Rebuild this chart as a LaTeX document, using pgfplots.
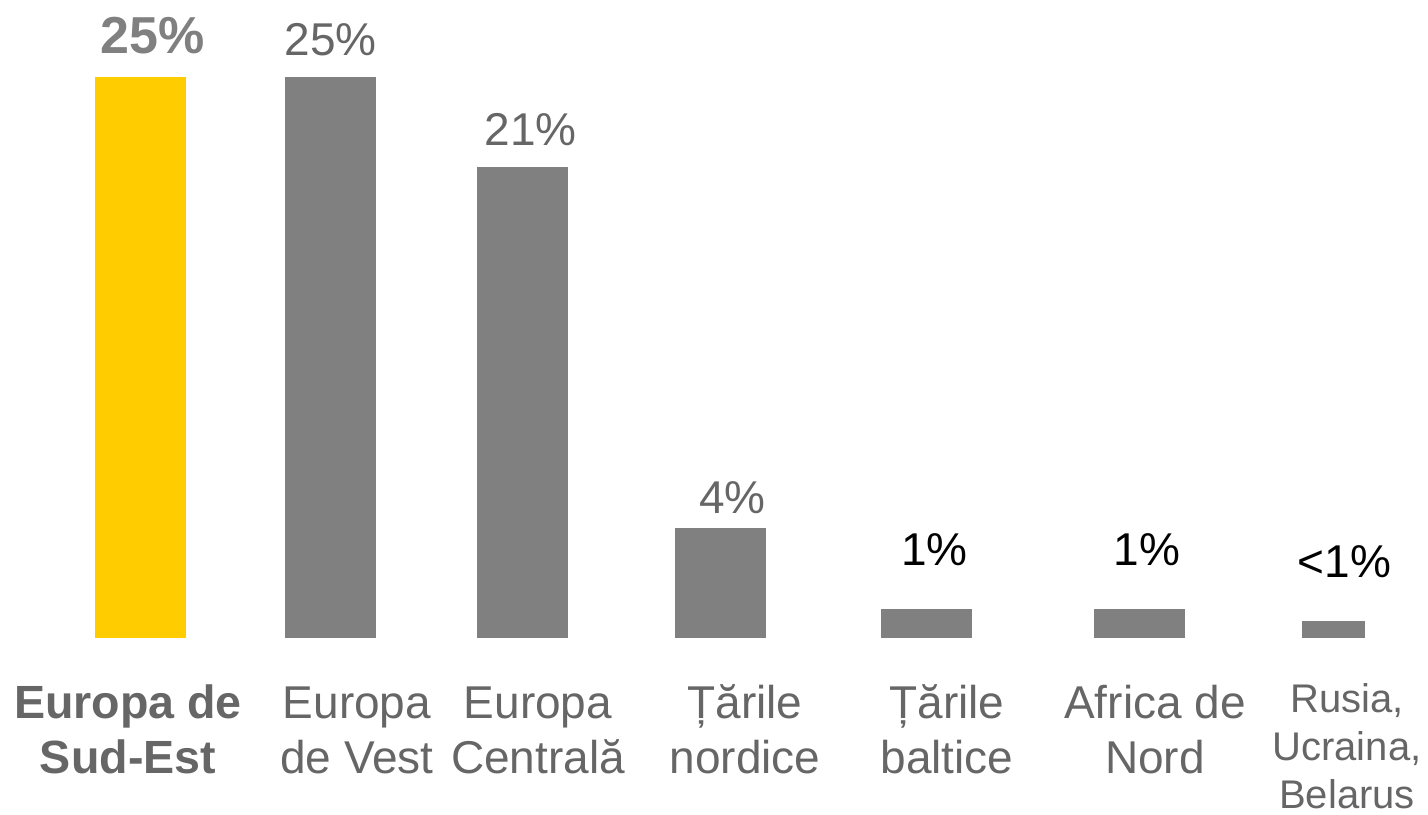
\documentclass[border=0pt]{standalone}
\usepackage{fontspec}
\setmainfont{Liberation Sans}
\usepackage{pgfplots}
\pgfplotsset{compat=1.18}
\definecolor{ey}{HTML}{FFCC00}
\definecolor{bargray}{HTML}{808080}
\definecolor{txtgray}{HTML}{666666}
\newcommand{\lab}{\fontsize{23}{27.5}\selectfont}
\newcommand{\blab}{\bfseries\fontsize{23.3}{27.5}\selectfont}
\newcommand{\slab}{\fontsize{20}{23}\selectfont}
\newcommand{\fl}{\rule{0pt}{20pt}}

\begin{document}
\begin{tikzpicture}
\begin{axis}[width=714pt,height=319pt,scale only axis,
  xmin=0,xmax=1428,ymin=0,ymax=28.43,clip=false,
  axis line style={draw=none},major tick length=0pt,ytick=\empty,
  xtick={128,357,538,745,947,1155,1347},
  xticklabels={{\fl\blab Europa de}\\{\blab Sud-Est},
    {\fl\lab Europa}\\{\lab de Vest},
    {\fl\lab Europa}\\{\lab Centrală},
    {\fl\lab Țările}\\{\lab nordice},
    {\fl\lab Țările}\\{\lab baltice},
    {\fl\lab Africa de}\\{\lab Nord},
    {\rule{0pt}{17pt}\slab Rusia,}\\[-3.5pt]{\slab Ucraina,}\\[-3.5pt]{\slab Belarus}},
  xticklabel style={align=center,anchor=north,inner sep=0pt,
    yshift=-20pt,text=txtgray,font=\lab},
  every axis plot/.append style={ybar,bar shift=0pt,bar width=91,draw=none},
  nodes near coords style={anchor=base,font=\fontsize{23}{26}\selectfont}]
\addplot[fill=ey,nodes near coords={\textbf{\fontsize{26}{30}\selectfont 25\%}},
  nodes near coords style={text=bargray,yshift=12pt,xshift=6pt}]
  coordinates {(140.5,25.0)};
\addplot[fill=bargray,nodes near coords={25\%},
  nodes near coords style={text=txtgray,yshift=11pt}]
  coordinates {(330.5,25.0)};
\addplot[fill=bargray,nodes near coords={21\%},
  nodes near coords style={text=txtgray,yshift=11pt,xshift=4pt}]
  coordinates {(522.5,20.99)};
\addplot[fill=bargray,nodes near coords={4\%},
  nodes near coords style={text=txtgray,yshift=7.5pt,xshift=6pt}]
  coordinates {(720.5,4.90)};
\addplot[fill=bargray,nodes near coords={1\%},
  nodes near coords style={text=black,yshift=21.5pt,xshift=4pt}]
  coordinates {(926.5,1.31)};
\addplot[fill=bargray,nodes near coords={1\%},
  nodes near coords style={text=black,yshift=21.5pt,xshift=4pt}]
  coordinates {(1139,1.31)};
\addplot[fill=bargray,bar width=63,nodes near coords={<1\%},
  nodes near coords style={text=black,yshift=22pt,xshift=5.5pt}]
  coordinates {(1333.5,0.76)};
\end{axis}
\path (0,-88pt) (714pt,319pt);
\end{tikzpicture}
\end{document}
